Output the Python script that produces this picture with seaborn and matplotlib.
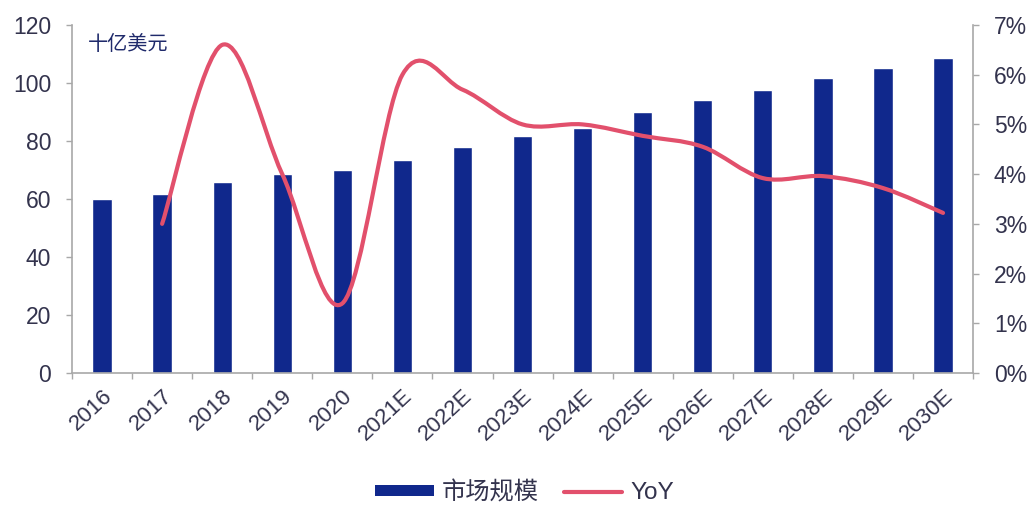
import numpy as np
import pandas as pd
import matplotlib
matplotlib.use("Agg")
import matplotlib.pyplot as plt
from matplotlib.path import Path
from matplotlib.patches import PathPatch
from matplotlib.lines import Line2D
from matplotlib.patches import Patch
from matplotlib.ticker import FuncFormatter, FixedLocator
import seaborn as sns

years = ["2016", "2017", "2018", "2019", "2020", "2021E", "2022E", "2023E",
         "2024E", "2025E", "2026E", "2027E", "2028E", "2029E", "2030E"]
market_size = [60.0, 61.7, 66.0, 68.6, 70.0, 73.4, 78.0, 81.7,
               84.5, 90.0, 94.1, 97.6, 101.7, 105.2, 108.6]
# growth rate starts in 2017 (no prior year for 2016)
yoy = [None, 3.0, 6.6, 4.0, 1.4, 6.0, 5.7, 5.0,
       5.0, 4.77, 4.55, 3.92, 3.96, 3.72, 3.22]

bar_color = "#10288C"
line_color = "#E2506C"
text_color = "#33334D"
axis_color = "#A8A8A8"

sns.set_theme(style="white")
plt.rcParams["font.family"] = ["Liberation Sans", "Noto Sans CJK SC", "DejaVu Sans"]

fig = plt.figure(figsize=(10.33, 5.05), dpi=100)
ax = fig.add_axes([0.0697, 0.2614, 0.8723, 0.6891])

df = pd.DataFrame({"year": years, "size": market_size})
sns.barplot(data=df, x="year", y="size", color=bar_color, width=0.32,
            saturation=1, ax=ax)
ax.set_xlim(-0.5, len(years) - 0.5)
ax.set_ylim(0, 120)
ax.set_yticks(np.arange(0, 121, 20))
ax.set_xlabel("")
ax.set_ylabel("")

ax2 = ax.twinx()
ax2.set_ylim(0, 7)
ax2.set_yticks(np.arange(0, 8, 1))
ax2.yaxis.set_major_formatter(FuncFormatter(lambda v, _: f"{v:.0f}%"))

# smoothed growth curve: cubic Bezier segments through each yearly value
pts = [(i, v) for i, v in enumerate(yoy) if v is not None]
P = np.array(pts, dtype=float)
n = len(P)
verts = [tuple(P[0])]
codes = [Path.MOVETO]
for i in range(n - 1):
    p0 = P[i - 1] if i > 0 else P[i]
    p1 = P[i]
    p2 = P[i + 1]
    p3 = P[i + 2] if i + 2 < n else P[i + 1]
    c1 = p1 + (p2 - p0) / 6.0
    c2 = p2 - (p3 - p1) / 6.0
    verts += [tuple(c1), tuple(c2), tuple(p2)]
    codes += [Path.CURVE4] * 3
curve = PathPatch(Path(verts, codes), facecolor="none", edgecolor=line_color,
                  lw=3.0, capstyle="round", joinstyle="round", zorder=3)
ax2.add_patch(curve)

# spines and ticks
for a in (ax, ax2):
    a.spines["top"].set_visible(False)
    for s in ("left", "right", "bottom"):
        a.spines[s].set_color(axis_color)
        a.spines[s].set_linewidth(1.2)
ax.spines["right"].set_visible(False)
ax2.spines["left"].set_visible(False)
ax2.spines["bottom"].set_visible(False)

ax.tick_params(axis="y", direction="out", length=4, width=1, color=axis_color,
               labelsize=16.5, labelcolor=text_color, pad=11, left=True)
ax2.tick_params(axis="y", direction="out", length=4, width=1, color=axis_color,
                labelsize=16.5, labelcolor=text_color, pad=11, right=True)
ax.tick_params(axis="x", which="major", length=0, labelsize=16,
               labelcolor=text_color, pad=9)
ax.xaxis.set_minor_locator(FixedLocator(np.arange(-0.5, len(years), 1.0)))
ax.tick_params(axis="x", which="minor", direction="out", length=4, width=1,
               color=axis_color, bottom=True)
for lbl in ax.get_xticklabels():
    lbl.set_rotation(43)
    lbl.set_ha("right")
    lbl.set_rotation_mode("anchor")

ax.text(0.018, 0.943, "十亿美元", transform=ax.transAxes, fontsize=14.5,
        color="#1F2A6B", va="center", ha="left")

handles = [Patch(facecolor=bar_color, edgecolor="none"),
           Line2D([0], [0], color=line_color, lw=3)]
fig.legend(handles, ["市场规模", "YoY"], loc="center",
           bbox_to_anchor=(0.508, 0.024), ncol=2, frameon=False, fontsize=17.5,
           handlelength=2.4, handleheight=0.35, columnspacing=1.0,
           handletextpad=0.35, labelcolor=text_color, borderpad=0.1)

fig.savefig("out.png", dpi=100, facecolor="white")
